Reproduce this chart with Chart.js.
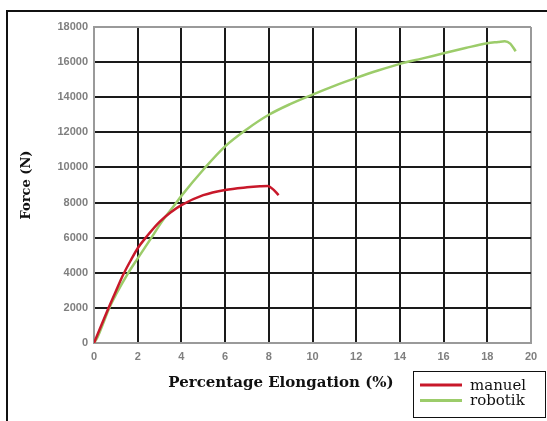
<!DOCTYPE html>
<html>
<head>
<meta charset="utf-8">
<script src="https://cdn.jsdelivr.net/npm/chart.js@4.4.1/dist/chart.umd.min.js"></script>
<style>
html, body { margin: 0; padding: 0; background: #fff; }
canvas { display: block; }
</style>
</head>
<body>
<canvas id="myChart" width="547" height="421"></canvas>
<script>
// values
var seriesNames = ['manuel', 'robotik'];

var manuelElongation = [0, 0.35, 0.65, 1.0, 1.34, 1.7, 2.0, 2.4, 3.0, 3.5, 4.0, 5.0, 6.0, 7.0, 7.6, 7.95, 8.2, 8.45];
var manuelForce = [0, 1050, 1950, 2950, 3900, 4750, 5400, 6050, 6900, 7430, 7850, 8420, 8720, 8870, 8930, 8950, 8750, 8420];

var robotikElongation = [0, 0.15, 0.35, 0.7, 1.0, 1.57, 2.0, 2.63, 3.1, 3.74, 4.0, 5.0, 6.0, 7.0, 8.0, 9.0, 10, 11, 12, 13, 14, 15, 16, 17, 18, 18.5, 18.8, 19.05, 19.3];
var robotikForce = [0, 300, 900, 2000, 2750, 4000, 4820, 6000, 6900, 7950, 8380, 9870, 11200, 12180, 13000, 13620, 14150, 14650, 15100, 15520, 15900, 16200, 16500, 16800, 17080, 17150, 17190, 17050, 16620];

var xTicks = [0, 2, 4, 6, 8, 10, 12, 14, 16, 18, 20];
var yTicks = [0, 2000, 4000, 6000, 8000, 10000, 12000, 14000, 16000, 18000];

function toPoints(xs, ys) {
    var pts = [];
    xs.forEach(function(x, i) {
        pts.push({ x: x, y: ys[i] });
    });
    return pts;
}

var gridColor = function(ticks) {
    return function(context) {
        if (!context.tick) return '#1a1a1a';
        var v = context.tick.value;
        if (v === ticks[0] || v === ticks[ticks.length - 1]) return '#9a9a9a';
        return '#1a1a1a';
    };
};

var tickFont = { family: '"Liberation Sans", Arial, sans-serif', size: 11, weight: 'bold' };

// frame, x title and the legend box at the bottom right
var decorPlugin = {
    id: 'decor',
    afterDraw: function(chart) {
        var ctx = chart.ctx;
        ctx.save();
        ctx.strokeStyle = '#111';
        ctx.lineWidth = 2;
        ctx.beginPath();
        ctx.moveTo(7, 421);
        ctx.lineTo(7, 11);
        ctx.lineTo(547, 11);
        ctx.stroke();

        ctx.fillStyle = '#111';
        ctx.font = 'bold 15px "DejaVu Serif"';
        ctx.textAlign = 'center';
        ctx.textBaseline = 'middle';
        ctx.fillText('Percentage Elongation (%)', 281, 383);

        ctx.lineWidth = 1;
        ctx.strokeRect(413.5, 371.5, 132, 46);
        chart.data.datasets.forEach(function(ds, i) {
            var y = 385 + i * 15.5;
            ctx.strokeStyle = ds.borderColor;
            ctx.lineWidth = 3;
            ctx.beginPath();
            ctx.moveTo(420, y);
            ctx.lineTo(462, y);
            ctx.stroke();
            ctx.fillStyle = '#111';
            ctx.font = '15px "DejaVu Serif"';
            ctx.textAlign = 'left';
            ctx.fillText(ds.label, 470, y + 1);
        });
        ctx.restore();
    }
};

var ctx = document.getElementById('myChart').getContext('2d');
var myChart = new Chart(ctx, {
    type: 'line',
    data: {
        datasets: [{
            label: seriesNames[0],
            data: toPoints(manuelElongation, manuelForce),
            borderColor: '#c8182a',
            borderWidth: 2.5,
            pointRadius: 0,
            cubicInterpolationMode: 'monotone'
        }, {
            label: seriesNames[1],
            data: toPoints(robotikElongation, robotikForce),
            borderColor: '#9ccc6a',
            borderWidth: 2.5,
            pointRadius: 0,
            cubicInterpolationMode: 'monotone'
        }]
    },
    options: {
        responsive: false,
        animation: false,
        layout: { padding: { left: 0, top: 27, right: 16, bottom: 0 } },
        plugins: {
            legend: { display: false },
            tooltip: { enabled: false }
        },
        scales: {
            x: {
                type: 'linear',
                min: 0,
                max: 20,
                afterBuildTicks: function(scale) {
                    scale.ticks = xTicks.map(function(v) { return { value: v }; });
                },
                afterFit: function(scale) { scale.height = 78; },
                grid: { color: gridColor(xTicks), lineWidth: 2, drawTicks: false },
                border: { display: true, color: '#9a9a9a', width: 2 },
                ticks: {
                    color: '#7f7f7f', font: tickFont, padding: 7, maxRotation: 0,
                    callback: function(value) { return String(value); }
                }
            },
            y: {
                min: 0,
                max: 18000,
                afterBuildTicks: function(scale) {
                    scale.ticks = yTicks.map(function(v) { return { value: v }; });
                },
                afterFit: function(scale) { scale.width = 94; },
                grid: { color: gridColor(yTicks), lineWidth: 2, drawTicks: false },
                border: { display: true, color: '#9a9a9a', width: 2 },
                ticks: {
                    color: '#7f7f7f', font: tickFont, padding: 6,
                    callback: function(value) { return String(value); }
                },
                title: {
                    display: true,
                    text: 'Force (N)',
                    color: '#111',
                    font: { family: '"DejaVu Serif"', size: 13, weight: 'bold' },
                    padding: { top: 19, bottom: 0 }
                }
            }
        }
    },
    plugins: [decorPlugin]
});
</script>
</body>
</html>
